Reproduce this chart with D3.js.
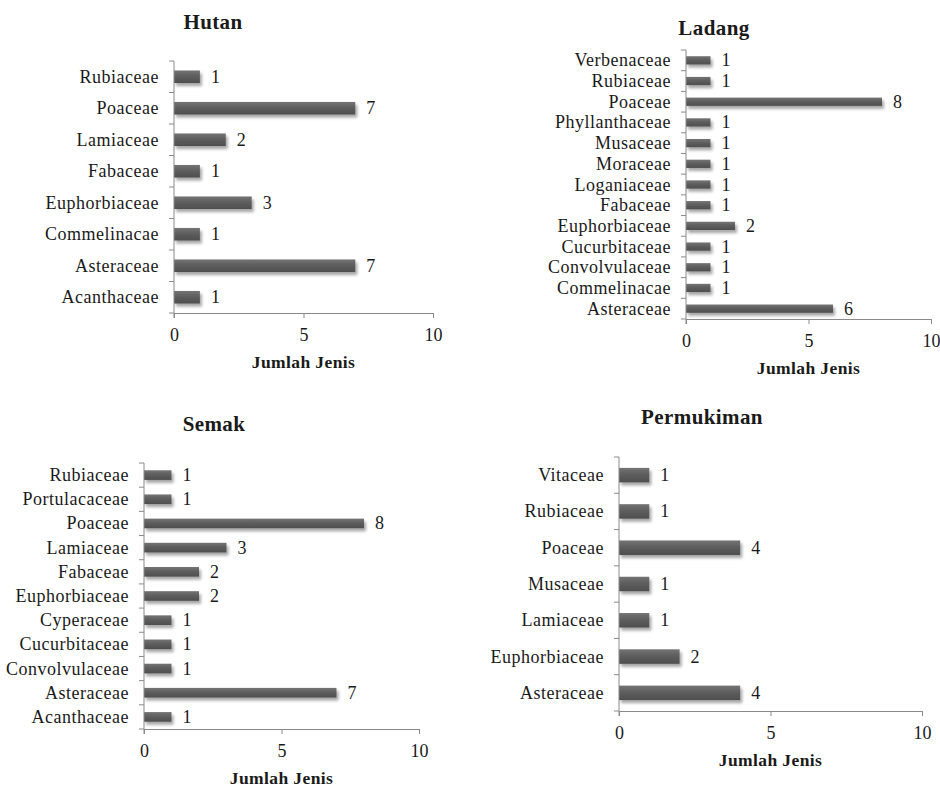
<!DOCTYPE html>
<html>
<head>
<meta charset="utf-8">
<script src="https://cdn.jsdelivr.net/npm/d3@7/dist/d3.min.js"></script>
<style>
  html, body { margin: 0; padding: 0; background: #fff; }
  svg { display: block; }
  text { font-family: "Liberation Serif", "Times New Roman", serif; fill: #1a1a1a; }
</style>
</head>
<body>
<svg id="chart" width="940" height="787"></svg>
<script>
// Number of species per family, listed bottom-to-top as plotted
const hutanFamilies = ["Acanthaceae", "Asteraceae", "Commelinacae", "Euphorbiaceae", "Fabaceae", "Lamiaceae", "Poaceae", "Rubiaceae"];
const hutanCounts = [1, 7, 1, 3, 1, 2, 7, 1];

const ladangFamilies = ["Asteraceae", "Commelinacae", "Convolvulaceae", "Cucurbitaceae", "Euphorbiaceae", "Fabaceae", "Loganiaceae", "Moraceae", "Musaceae", "Phyllanthaceae", "Poaceae", "Rubiaceae", "Verbenaceae"];
const ladangCounts = [6, 1, 1, 1, 2, 1, 1, 1, 1, 1, 8, 1, 1];

const semakFamilies = ["Acanthaceae", "Asteraceae", "Convolvulaceae", "Cucurbitaceae", "Cyperaceae", "Euphorbiaceae", "Fabaceae", "Lamiaceae", "Poaceae", "Portulacaceae", "Rubiaceae"];
const semakCounts = [1, 7, 1, 1, 1, 2, 2, 3, 8, 1, 1];

const permukimanFamilies = ["Asteraceae", "Euphorbiaceae", "Lamiaceae", "Musaceae", "Poaceae", "Rubiaceae", "Vitaceae"];
const permukimanCounts = [4, 2, 1, 1, 4, 1, 1];

const xTickValues = [0, 5, 10];
const xDomain = [0, 10];
const xAxisTitle = "Jumlah Jenis";

// Panel frames: plot area edges and title position
const panels = [
  { title: "Hutan", families: hutanFamilies, counts: hutanCounts,
    x0: 174, x1: 433, top: 61, bottom: 313, titleX: 213, titleY: 22 },
  { title: "Ladang", families: ladangFamilies, counts: ladangCounts,
    x0: 686, x1: 931, top: 50, bottom: 319, titleX: 714, titleY: 28 },
  { title: "Semak", families: semakFamilies, counts: semakCounts,
    x0: 144, x1: 419, top: 463, bottom: 729, titleX: 214, titleY: 424 },
  { title: "Permukiman", families: permukimanFamilies, counts: permukimanCounts,
    x0: 619, x1: 922, top: 457, bottom: 711, titleX: 702, titleY: 417 }
];

const svg = d3.select("#chart");
const defs = svg.append("defs");

const grad = defs.append("linearGradient")
  .attr("id", "barFill").attr("x1", 0).attr("y1", 0).attr("x2", 0).attr("y2", 1);
grad.append("stop").attr("offset", "0%").attr("stop-color", "#747474");
grad.append("stop").attr("offset", "45%").attr("stop-color", "#5e5e5e");
grad.append("stop").attr("offset", "100%").attr("stop-color", "#4e4e4e");

const shadow = defs.append("filter")
  .attr("id", "barShadow").attr("x", "-10%").attr("y", "-50%").attr("width", "130%").attr("height", "250%");
shadow.append("feDropShadow")
  .attr("dx", 2).attr("dy", 3).attr("stdDeviation", 1.8)
  .attr("flood-color", "#000").attr("flood-opacity", 0.35);

const axisColor = "#8a8a8a";

panels.forEach(p => {
  const g = svg.append("g");
  const data = p.families.map((f, i) => ({ family: f, count: p.counts[i] }));

  const x = d3.scaleLinear().domain(xDomain).range([p.x0, p.x1]);
  const y = d3.scaleBand()
    .domain(p.families.slice().reverse())
    .range([p.top, p.bottom])
    .paddingInner(0.6)
    .paddingOuter(0.3);

  // bars
  g.append("g").selectAll("rect")
    .data(data)
    .join("rect")
    .attr("x", x(0))
    .attr("y", d => y(d.family))
    .attr("width", d => x(d.count) - x(0))
    .attr("height", y.bandwidth())
    .attr("fill", "url(#barFill)")
    .attr("filter", "url(#barShadow)");

  // value labels
  g.append("g").selectAll("text")
    .data(data)
    .join("text")
    .attr("x", d => x(d.count) + 11)
    .attr("y", d => y(d.family) + y.bandwidth() / 2)
    .attr("dominant-baseline", "central")
    .attr("font-size", 18)
    .text(d => d.count);

  // category axis (labels)
  const yAxis = g.append("g")
    .attr("transform", `translate(${p.x0},0)`)
    .call(d3.axisLeft(y).tickSize(0).tickPadding(15));
  yAxis.select(".domain").remove();
  yAxis.selectAll("text")
    .attr("font-size", 18)
    .attr("letter-spacing", "0.5px")
    .attr("font-family", "Liberation Serif, Times New Roman, serif")
    .attr("fill", "#1a1a1a")
    .attr("dy", null)
    .attr("dominant-baseline", "central");

  // category boundary ticks and vertical axis line
  const step = y.step();
  const bounds = d3.range(p.families.length + 1).map(i => p.top + i * step);
  g.append("g").selectAll("line")
    .data(bounds)
    .join("line")
    .attr("x1", p.x0 - 5).attr("x2", p.x0)
    .attr("y1", d => d).attr("y2", d => d)
    .attr("stroke", axisColor).attr("stroke-width", 1);
  g.append("line")
    .attr("x1", p.x0).attr("x2", p.x0)
    .attr("y1", p.top).attr("y2", p.bottom + 5)
    .attr("stroke", axisColor).attr("stroke-width", 1);

  // value axis
  const xAxis = g.append("g")
    .attr("transform", `translate(0,${p.bottom})`)
    .call(d3.axisBottom(x).tickValues(xTickValues).tickSize(5).tickSizeOuter(0));
  xAxis.select(".domain").attr("stroke", axisColor);
  xAxis.selectAll(".tick line").attr("stroke", axisColor);
  xAxis.selectAll("text")
    .attr("font-size", 18)
    .attr("font-family", "Liberation Serif, Times New Roman, serif")
    .attr("fill", "#1a1a1a")
    .attr("dy", null)
    .attr("y", 22)
    .attr("dominant-baseline", "central");

  // axis title
  g.append("text")
    .attr("x", (p.x0 + p.x1) / 2)
    .attr("y", p.bottom + 49)
    .attr("text-anchor", "middle")
    .attr("dominant-baseline", "central")
    .attr("font-size", 17.5)
    .attr("font-weight", "bold")
    .attr("letter-spacing", "0.4px")
    .text(xAxisTitle);

  // panel title
  g.append("text")
    .attr("x", p.titleX)
    .attr("y", p.titleY)
    .attr("text-anchor", "middle")
    .attr("dominant-baseline", "central")
    .attr("font-size", 21)
    .attr("font-weight", "bold")
    .attr("letter-spacing", "0.4px")
    .text(p.title);
});
</script>
</body>
</html>
